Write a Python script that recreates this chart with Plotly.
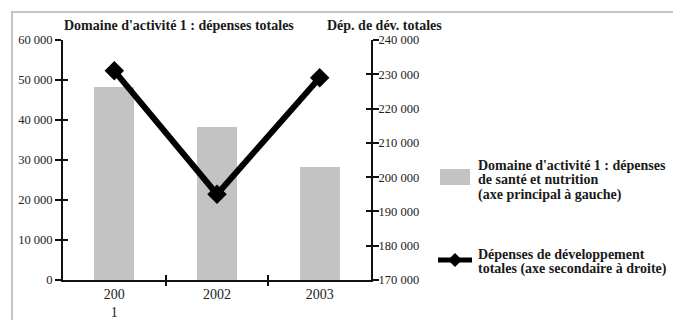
import plotly.graph_objects as go

years = ["200<br>1", "2002", "2003"]
sante = [48200, 38200, 28300]
dev_totales = [231000, 195000, 229000]

left_ticks = [0, 10000, 20000, 30000, 40000, 50000, 60000]
right_ticks = [170000, 180000, 190000, 200000, 210000, 220000, 230000, 240000]

legend1 = ["Domaine d'activité 1 : dépenses", "de santé et nutrition", "(axe principal à gauche)"]
legend2 = ["Dépenses de développement", "totales (axe secondaire à droite)"]

def fmt(v):
    return f"{v:,}".replace(",", " ")

FONT = "Liberation Serif"
fig = go.Figure()
fig.add_trace(go.Bar(x=[0, 1, 2], y=sante, width=0.39, marker_color="#c3c3c3",
                     marker_line_width=0, showlegend=False, xaxis="x", yaxis="y"))
fig.add_trace(go.Scatter(x=[0, 1, 2], y=dev_totales, mode="lines+markers",
                         line=dict(color="black", width=6),
                         marker=dict(symbol="diamond", size=15, color="black"),
                         showlegend=False, xaxis="x", yaxis="y2"))
# helper traces so that the overlay axes (inner half of crossing ticks) render
fig.add_trace(go.Scatter(x=[0], y=[0], xaxis="x2", yaxis="y3", mode="markers",
                         marker=dict(opacity=0), showlegend=False, hoverinfo="skip"))
fig.add_trace(go.Scatter(x=[0], y=[200000], xaxis="x3", yaxis="y4", mode="markers",
                         marker=dict(opacity=0), showlegend=False, hoverinfo="skip"))

axis_common = dict(showgrid=False, zeroline=False, linecolor="#111", linewidth=2,
                   tickcolor="#111", tickwidth=2, ticklen=6, automargin=False)
inner = dict(showticklabels=False, showline=False, showgrid=False, zeroline=False,
             tickcolor="#111", tickwidth=2, ticklen=5, ticks="inside", automargin=False)
fig.update_layout(
    width=673, height=320,
    margin=dict(l=63, r=302, t=40, b=40),
    paper_bgcolor="white", plot_bgcolor="rgba(0,0,0,0)",
    font=dict(family=FONT, size=12, color="#222"),
    bargap=0,
    xaxis=dict(range=[-0.5, 2.5], tickvals=[0, 1, 2], ticktext=years, ticks="",
               showline=True, linecolor="#111", linewidth=2, showgrid=False,
               zeroline=False, tickfont=dict(size=14), automargin=False),
    xaxis2=dict(range=[-0.5, 2.5], overlaying="x", tickvals=[0.5, 1.5], anchor="y3",
                **{**inner, "ticks": "outside"}),
    xaxis3=dict(range=[-0.5, 2.5], overlaying="x", tickvals=[0.5, 1.5], anchor="y4",
                **inner),
    yaxis=dict(range=[0, 60000], tickvals=left_ticks, ticktext=[fmt(v) for v in left_ticks],
               ticks="outside", showline=True, **axis_common, tickfont=dict(size=12.5)),
    yaxis2=dict(range=[170000, 240000], tickvals=right_ticks,
                ticktext=[fmt(v) for v in right_ticks], overlaying="y", side="right",
                anchor="x", ticks="outside", showline=True, **axis_common,
                tickfont=dict(size=12.5), ticklabelstandoff=-3),
    yaxis3=dict(range=[0, 60000], tickvals=left_ticks, overlaying="y", side="left",
                anchor="x2", **inner),
    yaxis4=dict(range=[170000, 240000], tickvals=right_ticks, overlaying="y", side="right",
                anchor="x3", **inner),
)

def px_x(p):
    return (p - 63) / 308

def px_y(p):
    return (280 - p) / 240

# frame
fig.add_shape(type="rect", xref="paper", yref="paper", x0=px_x(12), x1=px_x(700),
              y0=px_y(340), y1=px_y(12), line=dict(color="#c4c4c4", width=2), layer="below")

bold = dict(family=FONT, size=14, color="#1a1a1a")
fig.add_annotation(text="<b>Domaine d'activité 1 : dépenses totales</b>", xref="paper",
                   yref="paper", x=px_x(62), y=px_y(26), xanchor="left", yanchor="middle",
                   showarrow=False, font=bold)
fig.add_annotation(text="<b>Dép. de dév. totales</b>", xref="paper", yref="paper",
                   x=px_x(384), y=px_y(25), xanchor="center", yanchor="middle",
                   showarrow=False, font=bold)

# legend
fig.add_shape(type="rect", xref="paper", yref="paper", x0=px_x(440), x1=px_x(470),
              y0=px_y(185), y1=px_y(169), fillcolor="#c3c3c3", line=dict(width=0))
for i, t in enumerate(legend1):
    fig.add_annotation(text=f"<b>{t}</b>", xref="paper", yref="paper", x=px_x(476),
                       y=px_y(165 + 15 * i), xanchor="left", yanchor="middle",
                       showarrow=False, font=bold)
fig.add_shape(type="line", xref="paper", yref="paper", x0=px_x(438), x1=px_x(472),
              y0=px_y(260), y1=px_y(260), line=dict(color="black", width=5))
fig.add_shape(type="path", xref="paper", yref="paper",
              path=f"M {px_x(455)} {px_y(253)} L {px_x(462)} {px_y(260)} L {px_x(455)} {px_y(267)} L {px_x(448)} {px_y(260)} Z",
              fillcolor="black", line=dict(width=0))
for i, t in enumerate(legend2):
    fig.add_annotation(text=f"<b>{t}</b>", xref="paper", yref="paper", x=px_x(476),
                       y=px_y(254 + 15 * i), xanchor="left", yanchor="middle",
                       showarrow=False, font=bold)

fig.write_html("out.html")
